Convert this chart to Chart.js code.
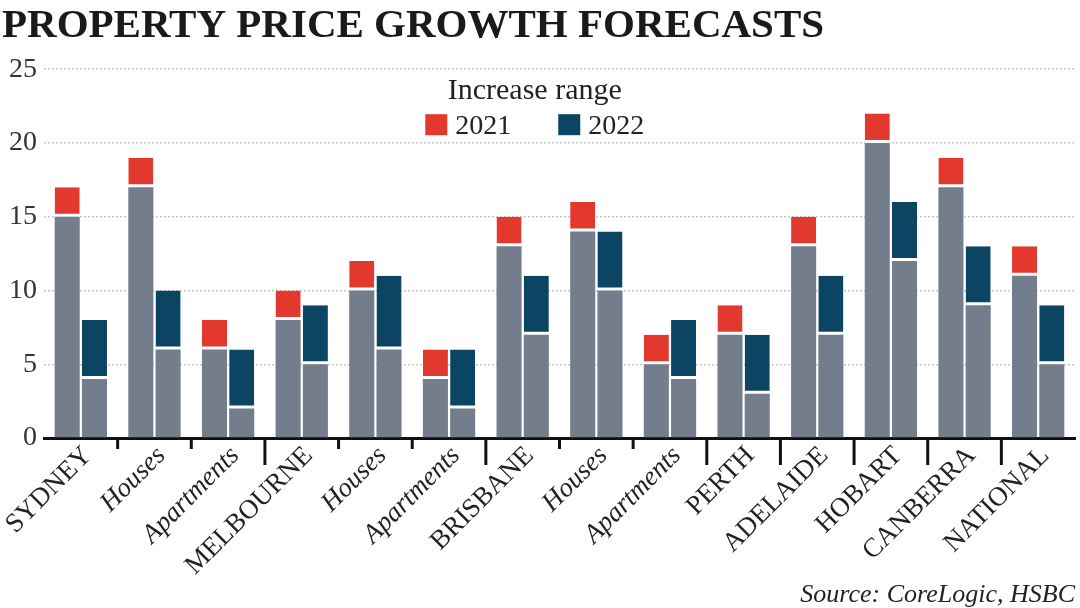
<!DOCTYPE html>
<html>
<head>
<meta charset="utf-8">
<script src="https://cdn.jsdelivr.net/npm/chart.js@4.4.1/dist/chart.umd.min.js"></script>
<style>
  html, body { margin: 0; padding: 0; background: #fff; }
  #wrap { width: 1080px; height: 608px; }
</style>
</head>
<body>
<div id="wrap"><canvas id="forecastChart"></canvas></div>
<script>
const labels = ['SYDNEY', 'Houses', 'Apartments', 'MELBOURNE', 'Houses', 'Apartments',
    'BRISBANE', 'Houses', 'Apartments', 'PERTH', 'ADELAIDE', 'HOBART', 'CANBERRA', 'NATIONAL'];
const low2021  = [15, 17, 6, 8, 10, 4, 13, 14, 5, 7, 13, 20, 17, 11];
const high2021 = [17, 19, 8, 10, 12, 6, 15, 16, 7, 9, 15, 22, 19, 13];
const low2022  = [4, 6, 2, 5, 6, 2, 7, 10, 4, 3, 7, 12, 9, 5];
const high2022 = [8, 10, 6, 9, 11, 6, 11, 14, 8, 7, 11, 16, 13, 9];
const yTicks = [0, 5, 10, 15, 20, 25];

const serif = '"Liberation Serif", "DejaVu Serif", serif';
const grey = '#737d8c';
const red = '#e2382d';
const navy = '#0c4463';

// city names are in capitals, sub categories are not
const isCity = (name) => name === name.toUpperCase();

// short ticks between sub categories, long ticks between cities
const tickMarks = {
    id: 'tickMarks',
    afterDraw(chart) {
        const x = chart.scales.x;
        const ctx = chart.ctx;
        ctx.save();
        ctx.strokeStyle = '#111';
        ctx.lineWidth = 3;
        for (let i = 1; i < labels.length; i++) {
            const px = (x.getPixelForValue(i - 1) + x.getPixelForValue(i)) / 2;
            const len = isCity(labels[i]) ? 27 : 11;
            ctx.beginPath();
            ctx.moveTo(px, x.top);
            ctx.lineTo(px, x.top + len);
            ctx.stroke();
        }
        ctx.restore();
    }
};

// legend floating inside the plot, under the top grid line
const rangeLegend = {
    id: 'rangeLegend',
    afterDraw(chart) {
        const { ctx, chartArea } = chart;
        const cx = chartArea.left + chartArea.width * 0.476;
        ctx.save();
        ctx.fillStyle = '#222';
        ctx.font = '30px ' + serif;
        ctx.textAlign = 'center';
        ctx.textBaseline = 'top';
        ctx.fillText('Increase range', cx, chartArea.top + 7);

        const items = chart.data.datasets.filter(d => d.label === '2021' || d.label === '2022');
        const box = 22, gap = 8, spacing = 47;
        ctx.font = '28px ' + serif;
        const widths = items.map(d => box + gap + ctx.measureText(d.label).width);
        const total = widths.reduce((a, b) => a + b, 0) + spacing * (items.length - 1);
        let x = cx - total / 2;
        const rowY = chartArea.top + 45;
        ctx.textAlign = 'left';
        ctx.textBaseline = 'middle';
        items.forEach((d, i) => {
            ctx.fillStyle = d.backgroundColor;
            ctx.fillRect(x, rowY, box, 21);
            ctx.fillStyle = '#222';
            ctx.fillText(d.label, x + box + gap, rowY + 12);
            x += widths[i] + spacing;
        });
        ctx.restore();
    }
};

const rangeBorder = { top: 0, left: 0, right: 0, bottom: 3 };

new Chart(document.getElementById('forecastChart').getContext('2d'), {
    type: 'bar',
    data: {
        labels: labels,
        datasets: [
            { label: 'low2021', data: low2021, backgroundColor: grey, stack: 'y2021' },
            { label: '2021', data: high2021.map((v, i) => v - low2021[i]), backgroundColor: red,
              borderColor: '#fff', borderWidth: rangeBorder, borderSkipped: false, stack: 'y2021' },
            { label: 'low2022', data: low2022, backgroundColor: grey, stack: 'y2022' },
            { label: '2022', data: high2022.map((v, i) => v - low2022[i]), backgroundColor: navy,
              borderColor: '#fff', borderWidth: rangeBorder, borderSkipped: false, stack: 'y2022' }
        ]
    },
    options: {
        responsive: true,
        maintainAspectRatio: false,
        animation: false,
        categoryPercentage: 0.74,
        barPercentage: 0.92,
        layout: { padding: { left: 2, right: 5, top: 0, bottom: 0 } },
        scales: {
            x: {
                stacked: true,
                grid: { display: false, drawTicks: false },
                border: { display: true, color: '#111', width: 3 },
                // let the first rotated label hang out to the left like the original
                afterFit: (scale) => { scale.paddingLeft = 0; },
                ticks: {
                    color: '#222',
                    padding: 4,
                    labelOffset: 7,
                    minRotation: 45,
                    maxRotation: 45,
                    autoSkip: false,
                    font: (c) => ({
                        family: serif,
                        size: 27,
                        lineHeight: 1.0,
                        style: isCity(labels[c.index]) ? 'normal' : 'italic'
                    })
                }
            },
            y: {
                stacked: true,
                min: 0,
                max: 25,
                afterBuildTicks: (axis) => { axis.ticks = yTicks.map(v => ({ value: v })); },
                grid: {
                    color: (c) => c.tick && c.tick.value === 0 ? 'rgba(0,0,0,0)' : '#c8c8c8',
                    lineWidth: 1.5,
                    drawTicks: false
                },
                border: { display: false, dash: [2, 2] },
                ticks: {
                    color: '#333',
                    padding: 7,
                    font: { family: serif, size: 28 }
                }
            }
        },
        plugins: {
            title: {
                display: true,
                text: 'PROPERTY PRICE GROWTH FORECASTS',
                align: 'start',
                color: '#1a1a1a',
                font: { family: serif, size: 41, weight: 'bold' },
                padding: { top: 2, bottom: 18 }
            },
            subtitle: {
                display: true,
                text: 'Source: CoreLogic, HSBC',
                position: 'bottom',
                align: 'end',
                color: '#222',
                font: { family: serif, size: 26, style: 'italic', lineHeight: 0.85 },
                padding: { top: 0, bottom: 2 }
            },
            legend: { display: false },
            tooltip: { enabled: false }
        }
    },
    plugins: [tickMarks, rangeLegend]
});
</script>
</body>
</html>
